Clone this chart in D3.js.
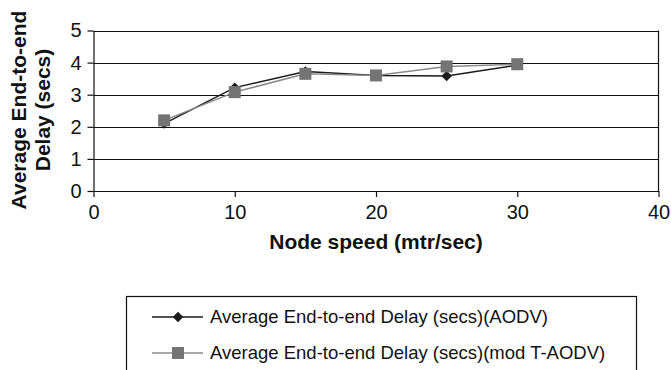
<!DOCTYPE html>
<html><head><meta charset="utf-8">
<script src="https://cdn.jsdelivr.net/npm/d3@7"></script>
<style>
html,body{margin:0;padding:0;background:#fff;}
svg{display:block;font-family:"Liberation Sans",Arial,sans-serif;}
</style></head>
<body><svg id="c" width="671" height="370"></svg>
<script>
const speeds = [5, 10, 15, 20, 25, 30];
const aodv = [2.1, 3.22, 3.72, 3.6, 3.58, 3.92];
const modTaodv = [2.2, 3.08, 3.65, 3.6, 3.88, 3.95];
const xTicks = [0, 10, 20, 30, 40];
const yTicks = [0, 1, 2, 3, 4, 5];
const seriesNames = ["Average End-to-end Delay (secs)(AODV)", "Average End-to-end Delay (secs)(mod T-AODV)"];
const xTitle = "Node speed (mtr/sec)";
const yTitle = ["Average End-to-end", "Delay (secs)"];

const svg = d3.select("#c");
const L = 93.5, R = 658.5, T = 30.5, B = 191;
const x = d3.scaleLinear().domain([0, 40]).range([L, R]);
const y = d3.scaleLinear().domain([0, 5]).range([B, T]);

// gridlines
svg.append("g").selectAll("line").data(yTicks.filter(d => d > 0)).join("line")
  .attr("x1", L).attr("x2", R).attr("y1", d => Math.round(y(d)) + 0.5).attr("y2", d => Math.round(y(d)) + 0.5)
  .attr("stroke", "#111").attr("stroke-width", 1.2);
// right border
svg.append("line").attr("x1", R).attr("x2", R).attr("y1", T).attr("y2", B).attr("stroke", "#111").attr("stroke-width", 1.2);

const xAxis = svg.append("g").attr("transform", `translate(0,${B})`)
  .call(d3.axisBottom(x).tickValues(xTicks).tickFormat(d3.format("d")).tickSize(6).tickSizeOuter(0).tickPadding(8));
const yAxis = svg.append("g").attr("transform", `translate(${L},0)`)
  .call(d3.axisLeft(y).tickValues(yTicks).tickFormat(d3.format("d")).tickSize(6).tickSizeOuter(0).tickPadding(6));
[xAxis, yAxis].forEach(g => {
  g.select(".domain").attr("stroke", "#111").attr("stroke-width", 1.2);
  g.selectAll(".tick line").attr("stroke", "#111").attr("stroke-width", 1.2);
  g.selectAll("text").attr("font-size", 20).attr("fill", "#111").attr("font-family", "Liberation Sans, Arial, sans-serif");
});

const line = d3.line().x((d, i) => x(speeds[i])).y(d => y(d));
svg.append("path").datum(aodv).attr("d", line).attr("fill", "none").attr("stroke", "#1a1a1a").attr("stroke-width", 1.5);
svg.append("path").datum(modTaodv).attr("d", line).attr("fill", "none").attr("stroke", "#8a8a8a").attr("stroke-width", 1.5);

const diamond = d3.symbol().type(d3.symbolDiamond2).size(70);
svg.append("g").selectAll("path").data(aodv).join("path")
  .attr("transform", (d, i) => `translate(${x(speeds[i])},${y(d)})`)
  .attr("d", diamond).attr("fill", "#1a1a1a");
svg.append("g").selectAll("rect").data(modTaodv).join("rect")
  .attr("x", (d, i) => x(speeds[i]) - 6).attr("y", d => y(d) - 6)
  .attr("width", 12).attr("height", 12).attr("fill", "#747474");

svg.append("text").attr("x", (L + R) / 2).attr("y", 249).attr("text-anchor", "middle")
  .attr("font-size", 21).attr("font-weight", "bold").attr("fill", "#111").text(xTitle);
const yt = svg.append("text").attr("transform", "translate(0,110) rotate(-90)").attr("text-anchor", "middle")
  .attr("font-size", 21).attr("font-weight", "bold").attr("fill", "#111");
yt.append("tspan").attr("x", 0).attr("y", 26).text(yTitle[0]);
yt.append("tspan").attr("x", 0).attr("y", 50).text(yTitle[1]);

// legend
const lg = svg.append("g");
lg.append("rect").attr("x", 126.5).attr("y", 296.5).attr("width", 510).attr("height", 90)
  .attr("fill", "none").attr("stroke", "#111").attr("stroke-width", 1.2);
const rows = [{c: "#1a1a1a", m: "d"}, {c: "#8a8a8a", m: "s"}];
rows.forEach((r, i) => {
  const cy = 317 + i * 36;
  lg.append("line").attr("x1", 152).attr("x2", 203).attr("y1", cy).attr("y2", cy).attr("stroke", r.c).attr("stroke-width", 1.5);
  if (r.m === "d") lg.append("path").attr("transform", `translate(178,${cy})`).attr("d", diamond).attr("fill", "#1a1a1a");
  else lg.append("rect").attr("x", 172).attr("y", cy - 6).attr("width", 12).attr("height", 12).attr("fill", "#747474");
  lg.append("text").attr("x", 210).attr("y", cy).attr("dy", "0.35em").attr("font-size", 18.5).attr("fill", "#111").text(seriesNames[i]);
});
</script></body></html>
